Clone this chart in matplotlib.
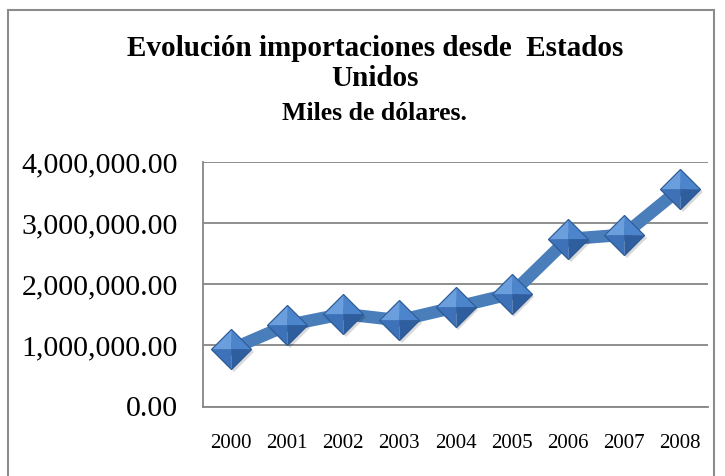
import matplotlib.pyplot as plt
from matplotlib.patches import Rectangle
from matplotlib.ticker import FuncFormatter

years = ['2000', '2001', '2002', '2003', '2004', '2005', '2006', '2007', '2008']
importaciones = [935000, 1330000, 1515000, 1410000, 1625000, 1845000, 2740000, 2810000, 3560000]

plt.rcParams['font.family'] = ['Liberation Serif', 'DejaVu Serif']

fig = plt.figure(figsize=(7.25, 4.76), dpi=100)
fig.patches.append(Rectangle((8 / 725, -0.01), 706 / 725, 1 - 10 / 476 + 0.01,
                             transform=fig.transFigure, fill=False,
                             edgecolor='#8c8c8c', linewidth=1.5))

ax = fig.add_axes([203 / 725, 1 - 406.5 / 476, 505 / 725, 244.5 / 476])
x = list(range(len(years)))

ax.plot(x, importaciones, color='#4a7ebb', linewidth=9, solid_capstyle='round', zorder=3)

# diamond markers with a bevelled (pyramid) look, four facets
ms = 29
ax.plot([i + 0.05 for i in x], [v - 50000 for v in importaciones], linestyle='none',
        marker='D', markersize=ms * 0.707, color='#000000', alpha=0.15, zorder=4,
        markeredgewidth=0)
facets = [
    ([(0, 0), (-1, 0), (0, 1)], '#6a9edd'),
    ([(0, 0), (0, 1), (1, 0)], '#4c85cc'),
    ([(0, 0), (-1, 0), (0, -1)], '#3d72b8'),
    ([(0, 0), (1, 0), (0, -1)], '#2f5e9f'),
]
for verts, col in facets:
    ax.plot(x, importaciones, linestyle='none', marker=verts, markersize=ms,
            markerfacecolor=col, markeredgecolor=col, markeredgewidth=0.5, zorder=5)
ax.plot(x, importaciones, linestyle='none', marker='D', markersize=ms * 0.707,
        markerfacecolor='none', markeredgecolor='#2c5a94', markeredgewidth=0.8, zorder=6)

ax.set_xlim(-0.5, len(years) - 0.5)
ax.set_ylim(0, 4000000)
ax.set_yticks([0, 1000000, 2000000, 3000000, 4000000])
ax.yaxis.set_major_formatter(FuncFormatter(lambda v, p: '{:,.2f}'.format(v)))
ax.set_xticks(x)
ax.set_xticklabels(years)
ax.grid(axis='y', color='#868686', linewidth=1.3)
ax.set_axisbelow(True)
for s in ['top', 'right']:
    ax.spines[s].set_visible(False)
for s in ['left', 'bottom']:
    ax.spines[s].set_color('#868686')
    ax.spines[s].set_linewidth(1.3)
ax.tick_params(axis='y', labelsize=21.5, length=0, pad=18)
ax.tick_params(axis='x', labelsize=15, length=0, pad=20)

fig.text(0.517, 1 - 48 / 476, 'Evolución importaciones desde  Estados', ha='center', va='center',
         fontsize=21, fontweight='bold')
fig.text(0.517, 1 - 79 / 476, 'Unidos', ha='center', va='center',
         fontsize=21, fontweight='bold')
fig.text(0.517, 1 - 113 / 476, 'Miles de dólares.', ha='center', va='center',
         fontsize=18.5, fontweight='bold')

fig.savefig('out.png', dpi=100)
